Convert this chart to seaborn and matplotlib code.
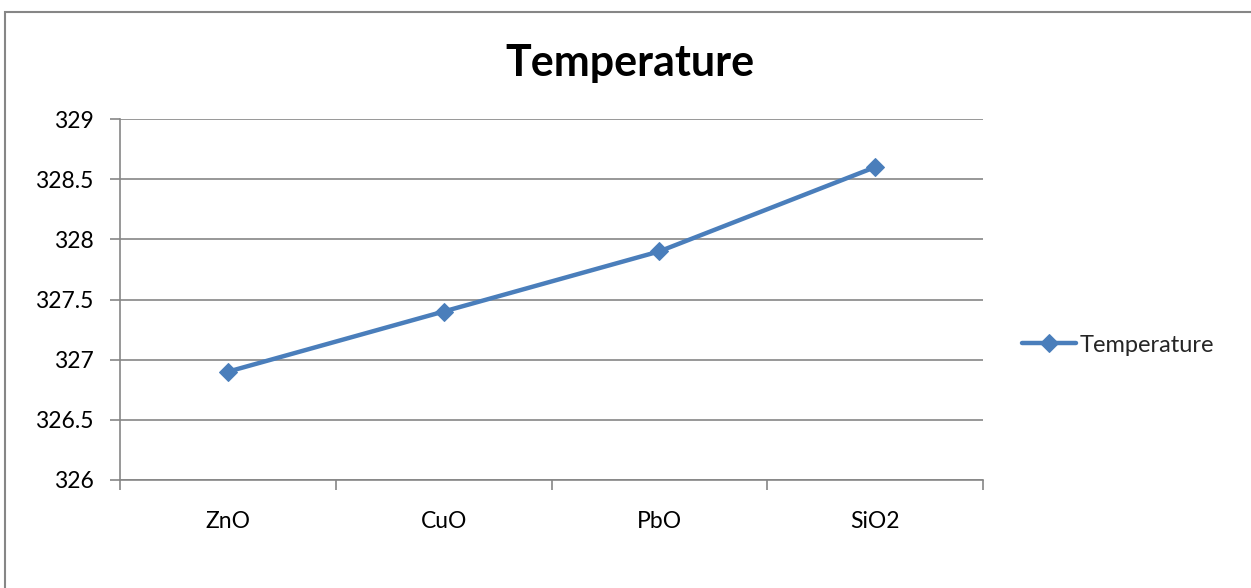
import matplotlib
matplotlib.use("Agg")
import matplotlib.pyplot as plt
import seaborn as sns
import pandas as pd
from matplotlib.patches import Rectangle
from matplotlib.ticker import FixedLocator

categories = ["ZnO", "CuO", "PbO", "SiO2"]
temperature = [326.9, 327.4, 327.9, 328.6]
series_name = "Temperature"
y_ticks = [326, 326.5, 327, 327.5, 328, 328.5, 329]
y_tick_labels = ["326", "326.5", "327", "327.5", "328", "328.5", "329"]

df = pd.DataFrame({"Material": categories, series_name: temperature})

sns.set_theme(style="white")
plt.rcParams["font.family"] = ["Lato", "DejaVu Sans"]

fig = plt.figure(figsize=(12.51, 5.88), dpi=100)
ax = fig.add_axes([120/1251, 1-480/588, 863/1251, 361/588])

blue = "#4A7EBB"
sns.lineplot(data=df, x="Material", y=series_name, ax=ax, sort=False,
             color=blue, linewidth=3.2, marker="D", markersize=9,
             markeredgecolor=blue, label=series_name)

ax.set_xlim(-0.5, len(categories) - 0.5)
ax.set_ylim(326, 329)
ax.set_yticks(y_ticks)
ax.set_yticklabels(y_tick_labels)
ax.grid(axis="y", color="#868686", linewidth=1.2)
ax.set_axisbelow(True)
ax.set_xlabel("")
ax.set_ylabel("")

ax.set_xticks(range(len(categories)))
ax.set_xticklabels(categories)
ax.xaxis.set_minor_locator(FixedLocator([i - 0.5 for i in range(len(categories) + 1)]))
ax.tick_params(axis="x", which="major", length=0, pad=22, labelsize=16.5, colors="black")
ax.tick_params(axis="x", which="minor", length=7, width=1.2, color="#868686", direction="out", bottom=True)
ax.tick_params(axis="y", which="major", length=7, width=1.2, color="#868686", direction="out", left=True,
               labelsize=16.5, labelcolor="black", pad=12)

for s in ["top", "right"]:
    ax.spines[s].set_visible(False)
for s in ["left", "bottom"]:
    ax.spines[s].set_color("#868686")
    ax.spines[s].set_linewidth(1.2)

fig.text(630/1251, 1-63/588, "Temperature", ha="center", va="center",
         fontsize=31, fontweight="bold", color="black")

leg = ax.legend(loc="center left", bbox_to_anchor=(1022/1251, 1-345/588),
                bbox_transform=fig.transFigure, frameon=False, fontsize=17,
                handlelength=2.3, handletextpad=0.15, borderpad=0, borderaxespad=0)

fig.patches.append(Rectangle((5/1251, -0.1), 1.2, 1-12/588+0.1, transform=fig.transFigure,
                             fill=False, edgecolor="#868686", linewidth=1.5))

fig.savefig("out.png", dpi=100)
